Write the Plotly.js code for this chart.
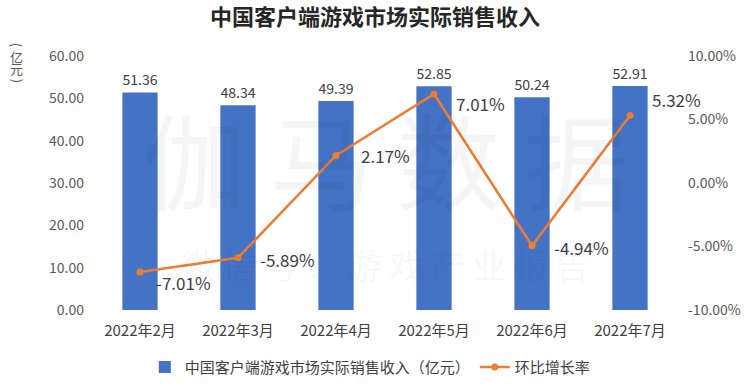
<!DOCTYPE html>
<html><head><meta charset="utf-8">
<script src="https://cdn.plot.ly/plotly-3.0.1.min.js"></script>
<style>html,body{margin:0;padding:0;background:#fff}#c{width:750px;height:392px}</style>
</head><body><div id="c"></div>
<script>
const categories = ['2022年2月','2022年3月','2022年4月','2022年5月','2022年6月','2022年7月'];
const revenue = [51.36, 48.34, 49.39, 52.85, 50.24, 52.91];
const growth = [-7.01, -5.89, 2.17, 7.01, -4.94, 5.32];
const leftTicks = [0,10,20,30,40,50,60];
const rightTicks = [-10,-5,0,5,10];

const F = '"Noto Sans CJK SC", "Noto Sans", sans-serif';
const traces = [
  {type:'bar', x:categories, y:revenue, name:'中国客户端游戏市场实际销售收入（亿元）',
   marker:{color:'#4472C4'}, width:0.36,
   text:revenue.map(v=>v.toFixed(2)), textposition:'outside', cliponaxis:false,
   textfont:{size:17,color:'#404040',family:F}},
  {type:'scatter', mode:'lines+markers', x:categories, y:growth, yaxis:'y2', name:'环比增长率',
   line:{color:'#ED7D31',width:2.5}, marker:{color:'#ED7D31',size:7}, cliponaxis:false}
];
const annotations = [
  {xref:'paper',yref:'paper',x:0.5,y:0.60,xanchor:'center',yanchor:'middle',showarrow:false,text:'伽 马 数 据',
   font:{size:104,color:'rgba(0,0,0,0.04)',family:F}},
  {xref:'paper',yref:'paper',x:0.5,y:0.18,xanchor:'center',yanchor:'middle',showarrow:false,text:'微 信 号 ： 游 戏 产 业 报 告',
   font:{size:34,color:'rgba(0,0,0,0.045)',family:F}}
];
growth.forEach((v,i)=>annotations.push({
  x:categories[i], y:v, xref:'x', yref:'y2', text:v.toFixed(2)+'%', showarrow:false,
  xanchor:'left', yanchor:'middle', xshift:[14,20,23,20,20,20][i], yshift:[-10,-2,0,-10,-2,16][i],
  font:{size:17,color:'#404040',family:F}
}));
const unitChars = ['(','亿','元',')'];
const unitY = [1.045, 1.0, 0.95, 0.903];
const unitAngle = [90,0,0,90];
unitChars.forEach((c,i)=>annotations.push({xref:'paper',yref:'paper',x:-0.126,y:unitY[i],xanchor:'center',yanchor:'middle',
  showarrow:false,text:c,textangle:unitAngle[i],font:{size:13,color:'#595959',family:F}}));

const layout = {
  width:750, height:392, margin:{l:91,r:71,t:56,b:82,autoexpand:false},
  paper_bgcolor:'#fff', plot_bgcolor:'#fff',
  title:{text:'<b>中国客户端游戏市场实际销售收入</b>', x:0.5, xanchor:'center', y:0.975, yanchor:'top',
    font:{size:22,color:'#262626',family:F}},
  font:{family:F,color:'#595959'},
  xaxis:{automargin:false, type:'category', range:[-0.5,5.5], autorange:false, tickfont:{size:15,color:'#404040'},
    showgrid:false, showline:false, ticks:'', ticklen:0, ticklabelstandoff:10},
  yaxis:{automargin:false, range:[0,60], tickvals:leftTicks, ticktext:leftTicks.map(v=>v.toFixed(2)), showgrid:false,
    zeroline:false, showline:false, tickfont:{size:14,color:'#595959'}, ticklabelstandoff:6},
  yaxis2:{automargin:false, range:[-10,10], overlaying:'y', side:'right', tickvals:rightTicks,
    ticktext:rightTicks.map(v=>v.toFixed(2)+'%'), showgrid:false, zeroline:false, showline:false,
    tickfont:{size:14,color:'#595959'}, ticklabelstandoff:8},
  showlegend:true,
  legend:{orientation:'h', x:0.475, xanchor:'center', y:-0.16, yanchor:'top', font:{size:15,color:'#404040'},
    traceorder:'normal'},
  annotations:annotations
};
Plotly.newPlot('c', traces, layout, {staticPlot:true, displayModeBar:false});
</script></body></html>
